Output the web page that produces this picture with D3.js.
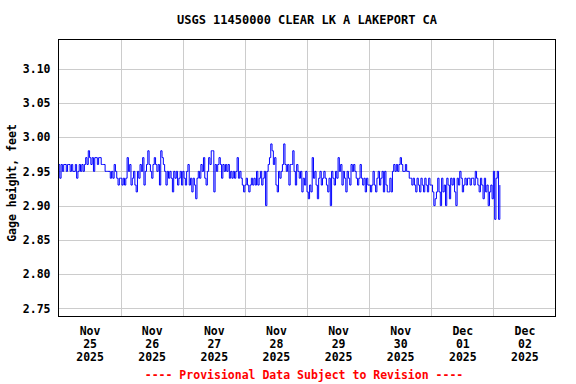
<!DOCTYPE html>
<html>
<head>
<meta charset="utf-8">
<script src="https://cdn.jsdelivr.net/npm/d3@7/dist/d3.min.js"></script>
<style>
  html, body { margin: 0; padding: 0; background: #ffffff; }
  svg { display: block; }
  text { font-family: "DejaVu Sans Mono", "Liberation Mono", monospace; font-weight: bold; }
</style>
</head>
<body>
<svg id="chart" width="576" height="384"></svg>
<script>
// ---- Data (gage height, feet; 30-minute readings starting 2025-11-25 00:00) ----
const title = "USGS 11450000 CLEAR LK A LAKEPORT CA";
const yLabel = "Gage height, feet";
const footer = "---- Provisional Data Subject to Revision ----";
const seriesStart = "2025-11-25T00:00:00Z";
const stepMinutes = 30;

const nov25 = [2.96,2.94,2.96,2.95,2.96,2.96,2.95,2.96,2.96,2.95,2.96,2.95,2.95,2.96,2.94,2.95,
  2.96,2.95,2.96,2.95,2.96,2.97,2.96,2.98,2.97,2.96,2.97,2.95,2.97,2.97,2.96,2.97,
  2.97,2.96,2.96,2.96,2.95,2.95,2.95,2.95,2.94,2.95,2.94,2.96,2.95,2.94,2.93,2.94];
const nov26 = [2.94,2.93,2.94,2.93,2.94,2.97,2.95,2.96,2.93,2.94,2.95,2.93,2.92,2.95,2.94,2.96,
  2.95,2.97,2.93,2.95,2.96,2.98,2.96,2.95,2.94,2.96,2.97,2.96,2.95,2.96,2.93,2.98,
  2.97,2.96,2.95,2.93,2.95,2.94,2.95,2.94,2.92,2.95,2.94,2.95,2.93,2.94,2.95,2.93];
const nov27 = [2.95,2.94,2.93,2.95,2.96,2.93,2.94,2.92,2.94,2.93,2.91,2.94,2.95,2.94,2.96,2.95,
  2.97,2.94,2.93,2.95,2.97,2.96,2.98,2.98,2.92,2.96,2.95,2.96,2.97,2.96,2.94,2.96,
  2.95,2.96,2.95,2.96,2.94,2.95,2.94,2.95,2.94,2.95,2.97,2.94,2.95,2.94,2.93,2.92];
const nov28 = [2.93,2.94,2.93,2.92,2.93,2.94,2.93,2.94,2.93,2.95,2.93,2.94,2.95,2.93,2.94,2.95,
  2.90,2.95,2.96,2.97,2.99,2.98,2.96,2.97,2.93,2.92,2.95,2.94,2.95,2.96,2.99,2.96,
  2.95,2.96,2.93,2.96,2.96,2.98,2.95,2.93,2.96,2.95,2.94,2.95,2.92,2.94,2.93,2.95];
const nov29 = [2.92,2.91,2.93,2.92,2.97,2.94,2.95,2.93,2.91,2.94,2.95,2.93,2.94,2.95,2.94,2.93,
  2.92,2.94,2.90,2.95,2.94,2.93,2.95,2.94,2.97,2.95,2.96,2.93,2.95,2.94,2.92,2.95,
  2.94,2.93,2.96,2.95,2.96,2.95,2.94,2.93,2.94,2.96,2.94,2.93,2.94,2.92,2.94,2.93];
const nov30 = [2.93,2.92,2.93,2.95,2.93,2.92,2.94,2.95,2.93,2.94,2.95,2.92,2.95,2.93,2.92,2.92,
  2.94,2.92,2.95,2.96,2.95,2.96,2.95,2.96,2.97,2.96,2.95,2.95,2.96,2.95,2.95,2.94,
  2.94,2.93,2.94,2.93,2.92,2.94,2.93,2.92,2.94,2.93,2.92,2.94,2.93,2.92,2.94,2.93];
const dec01 = [2.93,2.92,2.90,2.91,2.92,2.94,2.92,2.90,2.94,2.92,2.93,2.90,2.94,2.93,2.91,2.94,
  2.93,2.94,2.92,2.90,2.94,2.93,2.95,2.94,2.92,2.93,2.94,2.93,2.94,2.94,2.93,2.94,
  2.94,2.93,2.95,2.94,2.93,2.92,2.94,2.93,2.91,2.94,2.92,2.93,2.90,2.92,2.93,2.91];
const dec02 = [2.95,2.88,2.94,2.95,2.88,2.93];

const yTicks = [2.75, 2.80, 2.85, 2.90, 2.95, 3.00, 3.05, 3.10];
const dayTicks = ["2025-11-25","2025-11-26","2025-11-27","2025-11-28","2025-11-29","2025-11-30","2025-12-01","2025-12-02","2025-12-03"];
const dayLabels = [["Nov","25","2025"],["Nov","26","2025"],["Nov","27","2025"],["Nov","28","2025"],
  ["Nov","29","2025"],["Nov","30","2025"],["Dec","01","2025"],["Dec","02","2025"]];

(function () {
// ---- Build series ----
const values = [].concat(nov25, nov26, nov27, nov28, nov29, nov30, dec01, dec02);
const t0 = new Date(seriesStart).getTime();
const data = values.map((v, i) => ({ t: new Date(t0 + i * stepMinutes * 60000), v }));

// ---- Layout ----
const svg = d3.select("#chart");
const pL = 58.5, pR = 555.5, pT = 39.5, pB = 316.5;

const dayDates = dayTicks.map(s => new Date(s + "T00:00:00Z"));
const x = d3.scaleUtc().domain([dayDates[0], dayDates[dayDates.length - 1]]).range([pL, pR]);
const y = d3.scaleLinear().domain([2.7383, 3.1423]).range([pB, pT]);

// gridlines
const grid = svg.append("g");
grid.selectAll("line.h").data(yTicks).enter().append("line")
  .attr("x1", pL).attr("x2", pR)
  .attr("y1", d => Math.round(y(d)) + 0.5).attr("y2", d => Math.round(y(d)) + 0.5)
  .attr("stroke", "#cccccc").attr("stroke-width", 1);
grid.selectAll("line.v").data(dayDates.slice(1, -1)).enter().append("line")
  .attr("x1", d => Math.round(x(d)) + 0.5).attr("x2", d => Math.round(x(d)) + 0.5)
  .attr("y1", pT).attr("y2", pB)
  .attr("stroke", "#cccccc").attr("stroke-width", 1);

// clip for the data
svg.append("clipPath").attr("id", "clip").append("rect")
  .attr("x", pL).attr("y", pT).attr("width", pR - pL).attr("height", pB - pT);

// data line
const line = d3.line().x(d => x(d.t)).y(d => y(d.v)).curve(d3.curveStepAfter);
svg.append("path").datum(data)
  .attr("clip-path", "url(#clip)")
  .attr("d", line)
  .attr("fill", "none")
  .attr("stroke", "#0000ff")
  .attr("stroke-width", 1);

// frame
svg.append("rect").attr("x", pL).attr("y", pT)
  .attr("width", pR - pL).attr("height", pB - pT)
  .attr("fill", "none").attr("stroke", "#000000").attr("stroke-width", 1);

// y axis
const yAxis = d3.axisLeft(y).tickValues(yTicks).tickFormat(d3.format(".2f")).tickSize(0).tickPadding(8);
const yg = svg.append("g").attr("transform", `translate(${pL},0)`).call(yAxis);
yg.select(".domain").remove();
yg.selectAll("text").attr("font-size", "11.5px").attr("fill", "#000")
  .attr("font-family", "'DejaVu Sans Mono', monospace").attr("font-weight", "bold");

// x axis (labels at noon of each day)
const noons = dayDates.slice(0, -1).map(d => new Date(d.getTime() + 12 * 3600000));
const xAxis = d3.axisBottom(x).tickValues(noons).tickSize(0).tickPadding(0).tickFormat(() => "");
const xg = svg.append("g").attr("transform", `translate(0,${pB})`).call(xAxis);
xg.select(".domain").remove();
xg.selectAll(".tick text").each(function(d, i) {
  const t = d3.select(this);
  t.attr("font-size", "11.5px").attr("fill", "#000").attr("y", 0).attr("dy", null)
   .attr("font-family", "'DejaVu Sans Mono', monospace").attr("font-weight", "bold");
  dayLabels[i].forEach((s, k) => {
    t.append("tspan").attr("x", 0).attr("y", 18 + k * 13).text(s);
  });
});

// title
svg.append("text").attr("x", (pL + pR) / 2).attr("y", 23.5)
  .attr("text-anchor", "middle").attr("font-size", "12px").attr("fill", "#000").text(title);

// y label
svg.append("text").attr("transform", "translate(15.5,183) rotate(-90)")
  .attr("text-anchor", "middle").attr("font-size", "11.5px").attr("fill", "#000").text(yLabel);

// footer
svg.append("text").attr("x", 304).attr("y", 379)
  .attr("text-anchor", "middle").attr("font-size", "11.5px").attr("fill", "#ff0000").text(footer);
})();
</script>
</body>
</html>
